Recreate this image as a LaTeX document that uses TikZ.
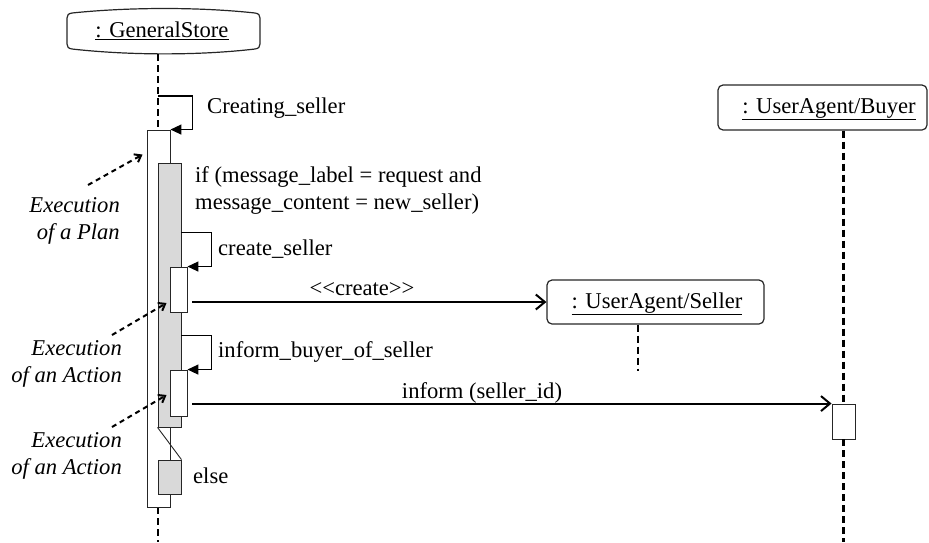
\documentclass[tikz,border=0pt]{standalone}
\usepackage{fontspec}
\setmainfont{Liberation Serif}
\usetikzlibrary{arrows.meta,calc}
\definecolor{actgray}{RGB}{217,217,217}
\begin{document}
\begin{tikzpicture}[x=1pt,y=-1pt,
  lbl/.style={font=\fontsize{22.6}{27}\selectfont, inner sep=0pt},
  annlbl/.style={lbl, font=\fontsize{22.6}{27}\selectfont\itshape, align=right},
  objline/.style={draw=black!85, line width=1.2pt},
  objbox/.style={objline, rounded corners=5pt, inner sep=0pt},
  actbox/.style={draw=black!85, fill=white, line width=0.9pt, inner sep=0pt},
  grayact/.style={actbox, fill=actgray},
  lifeline/.style={line width=2.3pt, dash pattern=on 7pt off 4pt},
  selfmsg/.style={line width=1.3pt, -{Triangle[length=11pt,width=10pt]}},
  msg/.style={line width=2pt, -{Straight Barb[length=9pt,width=15pt]}},
  annarrow/.style={line width=2pt, dash pattern=on 5pt off 4pt, -{Straight Barb[length=6pt,width=9pt]}}
]
\useasboundingbox (0,0) rectangle (929,542);

% GeneralStore object
\draw[objline] (72,13) .. controls (130,7) and (200,7) .. (255,13)
  .. controls (258.5,13.5) and (260,15) .. (260,18) -- (260,44)
  .. controls (260,47) and (258.5,48.5) .. (255,49)
  .. controls (200,55.5) and (130,55.5) .. (72,49)
  .. controls (68.5,48.5) and (67,47) .. (67,44) -- (67,18)
  .. controls (67,15) and (68.5,13.5) .. (72,13) -- cycle;
\node[lbl, anchor=base] (gsname) at (162,37) {\underline{: GeneralStore}};
\coordinate (gsl) at (158,54);

% Seller object
\node[objbox, minimum width=217, minimum height=44] (seller) at (655.5,302) {};
\node[lbl, anchor=base] (sellername) at (657,308) {\underline{: UserAgent/Seller}};

% Buyer object
\node[objbox, minimum width=209, minimum height=45] (buyer) at (822.5,107.5) {};
\node[lbl, anchor=base] (buyername) at (829,113) {\underline{: UserAgent/Buyer}};

% activations
\node[actbox, minimum width=23, minimum height=35] (bact) at (843.5,421.5) {};

% lifelines
\draw[lifeline] (gsl) -- (158,130);
\draw[lifeline] (158,507) -- (158,542);
\draw[lifeline] ($(seller.south)+(-17.5,0)$) -- ++(0,46);
\draw[lifeline] ($(buyer.south)+(21,0)$) -- (bact.north);
\draw[lifeline] (bact.south) -- (843.5,542);

\node[actbox, minimum width=23, minimum height=377] (act) at (158.5,318.5) {};
\node[grayact, minimum width=23, minimum height=264] (gray1) at (169.5,295) {};
\node[grayact, minimum width=23, minimum height=34] (elsebox) at (169.5,477) {};
\node[actbox, minimum width=17, minimum height=45] (small1) at (178.5,289.5) {};
\node[actbox, minimum width=17, minimum height=46] (small2) at (178.5,393) {};
\draw[draw=black!85, line width=0.9pt] (gray1.south west) -- (elsebox.north east);

% self messages
\coordinate (cs0) at (158,96);
\draw[selfmsg] (cs0) -| ($(act.north east)+(22,0)$) -- (act.north east);
\draw[selfmsg] ($(gray1.north east)+(0,70)$) -| ($(small1.north east)+(24,0)$) -- (small1.north east);
\draw[selfmsg] ($(gray1.north east)+(0,173)$) -| ($(small2.north east)+(24,0)$) -- (small2.north east);

% messages
\draw[msg] ($(small1.east |- seller.west)+(5,0)$) -- (seller.west);
\draw[msg] ($(small2.east |- bact.north)+(5,0)$) -- (bact.north west);

% labels
\node[lbl, anchor=base west] (cstext) at (207,113) {Creating\_seller};
\node[lbl, anchor=base west, align=left] (iftext) at (195,209) {if (message\_label = request and\\message\_content = new\_seller)};
\node[lbl, anchor=base west] (cstext2) at (218,255) {create\_seller};
\node[lbl, anchor=base] (createlbl) at (362,295) {<\kern0pt<create>\kern0pt>};
\node[lbl, anchor=base west] (ibtext) at (218,357) {inform\_buyer\_of\_seller};
\node[lbl, anchor=base] (informlbl) at (482,398) {inform (seller\_id)};
\node[lbl, anchor=base west] (elsetext) at (193,483) {else};

% annotations
\node[annlbl, anchor=base east] (ann1) at (120,239) {Execution\\of a Plan};
\node[annlbl, anchor=base east] (ann2) at (122,382) {Execution\\of an Action};
\node[annlbl, anchor=base east] (ann3) at (122,474) {Execution\\of an Action};
\coordinate (a1s) at (88,185);
\coordinate (a2s) at (112,335);
\coordinate (a3s) at (112,427);
\draw[annarrow] (a1s) -- ($(act.north west)+(-4,25)$);
\draw[annarrow] (a2s) -- ($(small1.west)+(-3,13.5)$);
\draw[annarrow] (a3s) -- ($(small2.west)+(-3,2)$);
\end{tikzpicture}
\end{document}
